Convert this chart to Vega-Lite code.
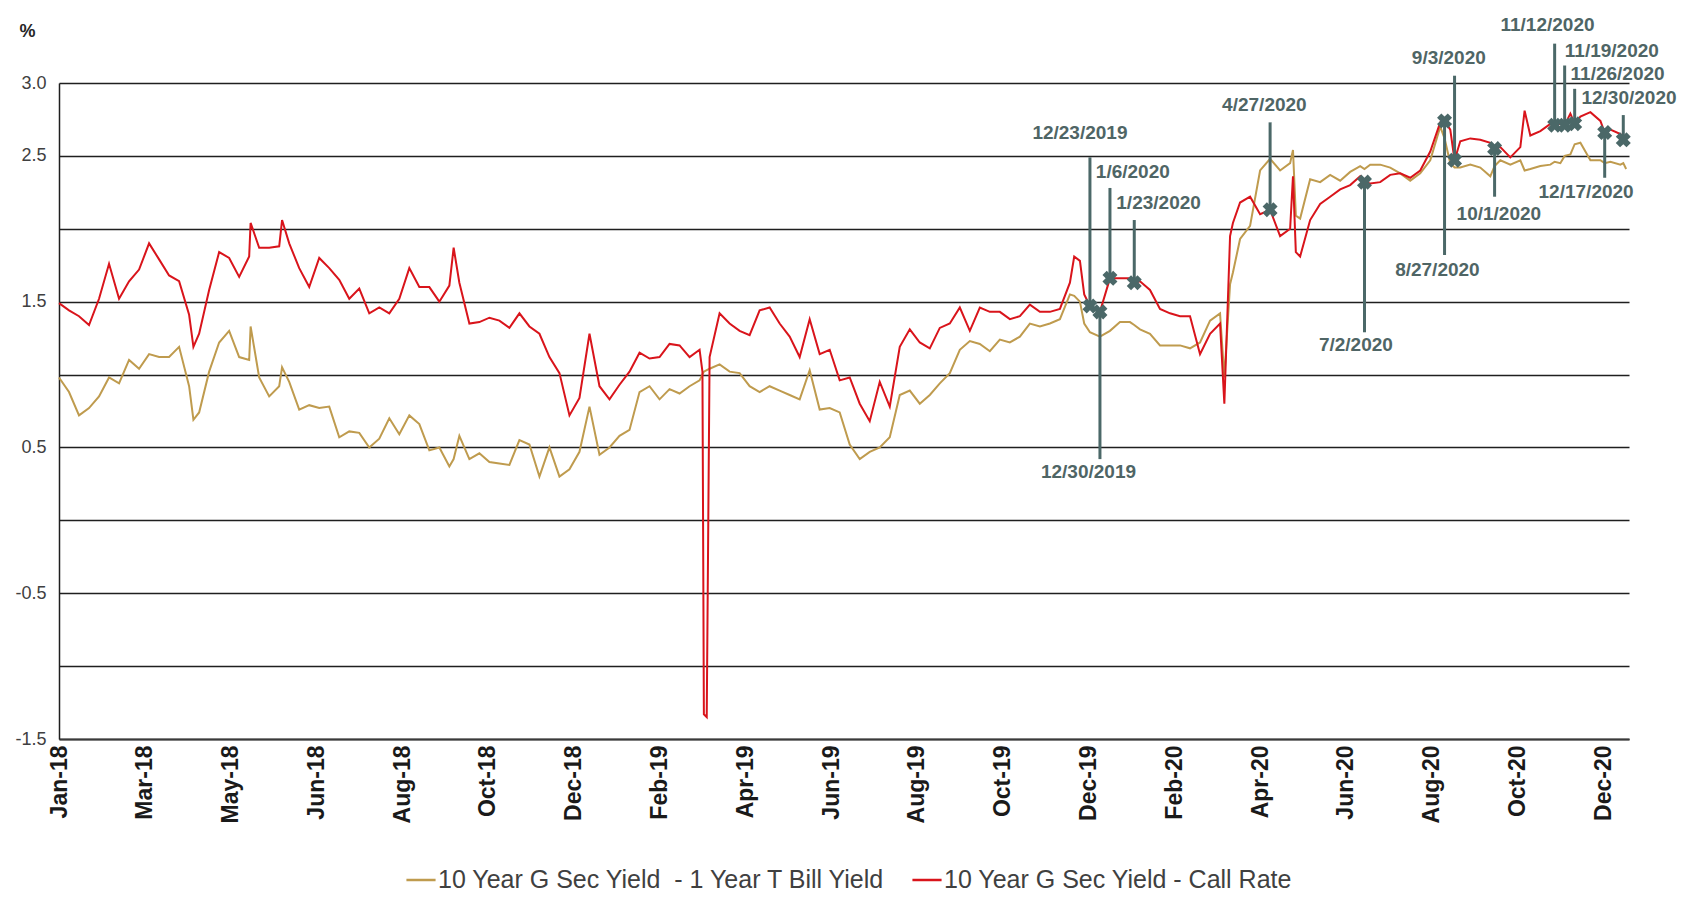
{
  "$schema": "https://vega.github.io/schema/vega-lite/v6.json",
  "description": "10 Year G Sec Yield spreads over 1 Year T Bill Yield and Call Rate, 2018-2020",
  "width": 1570,
  "height": 656,
  "autosize": {"type": "none"},
  "padding": {"left": 59, "top": 83, "right": 60, "bottom": 171},
  "background": "white",
  "config": {"view": {"stroke": null}, "font": "Liberation Sans"},
  "datasets": {
    "yields": [
      {"date": "2018-01-01", "tbill": 0.98, "call": 1.49},
      {"date": "2018-01-08", "tbill": 0.88, "call": 1.44},
      {"date": "2018-01-15", "tbill": 0.72, "call": 1.40},
      {"date": "2018-01-22", "tbill": 0.77, "call": 1.34},
      {"date": "2018-01-29", "tbill": 0.85, "call": 1.52},
      {"date": "2018-02-05", "tbill": 0.98, "call": 1.76},
      {"date": "2018-02-12", "tbill": 0.94, "call": 1.52},
      {"date": "2018-02-19", "tbill": 1.10, "call": 1.64},
      {"date": "2018-02-26", "tbill": 1.04, "call": 1.72},
      {"date": "2018-03-05", "tbill": 1.14, "call": 1.90},
      {"date": "2018-03-12", "tbill": 1.12, "call": 1.79},
      {"date": "2018-03-19", "tbill": 1.12, "call": 1.68},
      {"date": "2018-03-26", "tbill": 1.19, "call": 1.64},
      {"date": "2018-04-02", "tbill": 0.92, "call": 1.41},
      {"date": "2018-04-05", "tbill": 0.69, "call": 1.19},
      {"date": "2018-04-09", "tbill": 0.74, "call": 1.28},
      {"date": "2018-04-16", "tbill": 1.02, "call": 1.58},
      {"date": "2018-04-23", "tbill": 1.22, "call": 1.84},
      {"date": "2018-04-30", "tbill": 1.30, "call": 1.80},
      {"date": "2018-05-07", "tbill": 1.12, "call": 1.67},
      {"date": "2018-05-14", "tbill": 1.10, "call": 1.81},
      {"date": "2018-05-15", "tbill": 1.33, "call": 2.04},
      {"date": "2018-05-21", "tbill": 0.98, "call": 1.87},
      {"date": "2018-05-28", "tbill": 0.85, "call": 1.87},
      {"date": "2018-06-04", "tbill": 0.92, "call": 1.88},
      {"date": "2018-06-06", "tbill": 1.05, "call": 2.06},
      {"date": "2018-06-11", "tbill": 0.95, "call": 1.90},
      {"date": "2018-06-18", "tbill": 0.76, "call": 1.73},
      {"date": "2018-06-25", "tbill": 0.79, "call": 1.60},
      {"date": "2018-07-02", "tbill": 0.77, "call": 1.80},
      {"date": "2018-07-09", "tbill": 0.78, "call": 1.73},
      {"date": "2018-07-16", "tbill": 0.57, "call": 1.65},
      {"date": "2018-07-23", "tbill": 0.61, "call": 1.52},
      {"date": "2018-07-30", "tbill": 0.60, "call": 1.59},
      {"date": "2018-08-06", "tbill": 0.50, "call": 1.42},
      {"date": "2018-08-13", "tbill": 0.56, "call": 1.46},
      {"date": "2018-08-20", "tbill": 0.70, "call": 1.42},
      {"date": "2018-08-27", "tbill": 0.59, "call": 1.52},
      {"date": "2018-09-03", "tbill": 0.72, "call": 1.73},
      {"date": "2018-09-10", "tbill": 0.66, "call": 1.60},
      {"date": "2018-09-17", "tbill": 0.48, "call": 1.60},
      {"date": "2018-09-24", "tbill": 0.50, "call": 1.50},
      {"date": "2018-10-01", "tbill": 0.37, "call": 1.61},
      {"date": "2018-10-04", "tbill": 0.42, "call": 1.87},
      {"date": "2018-10-08", "tbill": 0.58, "call": 1.63},
      {"date": "2018-10-15", "tbill": 0.42, "call": 1.35},
      {"date": "2018-10-22", "tbill": 0.46, "call": 1.36},
      {"date": "2018-10-29", "tbill": 0.40, "call": 1.39},
      {"date": "2018-11-05", "tbill": 0.39, "call": 1.37},
      {"date": "2018-11-12", "tbill": 0.38, "call": 1.32},
      {"date": "2018-11-19", "tbill": 0.55, "call": 1.42},
      {"date": "2018-11-26", "tbill": 0.52, "call": 1.33},
      {"date": "2018-12-03", "tbill": 0.30, "call": 1.28},
      {"date": "2018-12-10", "tbill": 0.50, "call": 1.12},
      {"date": "2018-12-17", "tbill": 0.30, "call": 1.01},
      {"date": "2018-12-24", "tbill": 0.35, "call": 0.72},
      {"date": "2018-12-31", "tbill": 0.47, "call": 0.84},
      {"date": "2019-01-07", "tbill": 0.78, "call": 1.28},
      {"date": "2019-01-14", "tbill": 0.45, "call": 0.92},
      {"date": "2019-01-21", "tbill": 0.50, "call": 0.83},
      {"date": "2019-01-28", "tbill": 0.58, "call": 0.93},
      {"date": "2019-02-04", "tbill": 0.62, "call": 1.02},
      {"date": "2019-02-11", "tbill": 0.88, "call": 1.15},
      {"date": "2019-02-18", "tbill": 0.92, "call": 1.11},
      {"date": "2019-02-25", "tbill": 0.83, "call": 1.12},
      {"date": "2019-03-04", "tbill": 0.90, "call": 1.21},
      {"date": "2019-03-11", "tbill": 0.87, "call": 1.20},
      {"date": "2019-03-18", "tbill": 0.92, "call": 1.12},
      {"date": "2019-03-25", "tbill": 0.96, "call": 1.17},
      {"date": "2019-03-27", "tbill": 1.00, "call": 1.02},
      {"date": "2019-03-28", "tbill": 1.02, "call": -1.33},
      {"date": "2019-03-30", "tbill": 1.03, "call": -1.35},
      {"date": "2019-04-01", "tbill": 1.04, "call": 1.12},
      {"date": "2019-04-08", "tbill": 1.07, "call": 1.42},
      {"date": "2019-04-15", "tbill": 1.02, "call": 1.35},
      {"date": "2019-04-22", "tbill": 1.01, "call": 1.30},
      {"date": "2019-04-29", "tbill": 0.92, "call": 1.27},
      {"date": "2019-05-06", "tbill": 0.88, "call": 1.44},
      {"date": "2019-05-13", "tbill": 0.92, "call": 1.46},
      {"date": "2019-05-20", "tbill": 0.89, "call": 1.35},
      {"date": "2019-05-27", "tbill": 0.86, "call": 1.26},
      {"date": "2019-06-03", "tbill": 0.83, "call": 1.12},
      {"date": "2019-06-10", "tbill": 1.03, "call": 1.38},
      {"date": "2019-06-17", "tbill": 0.76, "call": 1.14},
      {"date": "2019-06-24", "tbill": 0.77, "call": 1.17},
      {"date": "2019-07-01", "tbill": 0.74, "call": 0.96},
      {"date": "2019-07-08", "tbill": 0.52, "call": 0.98},
      {"date": "2019-07-15", "tbill": 0.42, "call": 0.80},
      {"date": "2019-07-22", "tbill": 0.47, "call": 0.68},
      {"date": "2019-07-29", "tbill": 0.50, "call": 0.95},
      {"date": "2019-08-05", "tbill": 0.57, "call": 0.78},
      {"date": "2019-08-12", "tbill": 0.86, "call": 1.19},
      {"date": "2019-08-19", "tbill": 0.89, "call": 1.31},
      {"date": "2019-08-26", "tbill": 0.80, "call": 1.22},
      {"date": "2019-09-02", "tbill": 0.86, "call": 1.18},
      {"date": "2019-09-09", "tbill": 0.94, "call": 1.32},
      {"date": "2019-09-16", "tbill": 1.01, "call": 1.35},
      {"date": "2019-09-23", "tbill": 1.17, "call": 1.46},
      {"date": "2019-09-30", "tbill": 1.23, "call": 1.30},
      {"date": "2019-10-07", "tbill": 1.21, "call": 1.46},
      {"date": "2019-10-14", "tbill": 1.16, "call": 1.43},
      {"date": "2019-10-21", "tbill": 1.24, "call": 1.43},
      {"date": "2019-10-28", "tbill": 1.22, "call": 1.38},
      {"date": "2019-11-04", "tbill": 1.26, "call": 1.40},
      {"date": "2019-11-11", "tbill": 1.35, "call": 1.48},
      {"date": "2019-11-18", "tbill": 1.33, "call": 1.43},
      {"date": "2019-11-25", "tbill": 1.35, "call": 1.43},
      {"date": "2019-12-02", "tbill": 1.38, "call": 1.45},
      {"date": "2019-12-09", "tbill": 1.55, "call": 1.63},
      {"date": "2019-12-12", "tbill": 1.54, "call": 1.81},
      {"date": "2019-12-16", "tbill": 1.50, "call": 1.78},
      {"date": "2019-12-19", "tbill": 1.35, "call": 1.55},
      {"date": "2019-12-23", "tbill": 1.29, "call": 1.47},
      {"date": "2019-12-30", "tbill": 1.26, "call": 1.43},
      {"date": "2020-01-06", "tbill": 1.30, "call": 1.66},
      {"date": "2020-01-13", "tbill": 1.36, "call": 1.66},
      {"date": "2020-01-20", "tbill": 1.36, "call": 1.66},
      {"date": "2020-01-23", "tbill": 1.34, "call": 1.63},
      {"date": "2020-01-27", "tbill": 1.31, "call": 1.64},
      {"date": "2020-02-03", "tbill": 1.28, "call": 1.58},
      {"date": "2020-02-10", "tbill": 1.20, "call": 1.45},
      {"date": "2020-02-17", "tbill": 1.20, "call": 1.42},
      {"date": "2020-02-24", "tbill": 1.20, "call": 1.40},
      {"date": "2020-03-02", "tbill": 1.18, "call": 1.40},
      {"date": "2020-03-09", "tbill": 1.22, "call": 1.14},
      {"date": "2020-03-16", "tbill": 1.37, "call": 1.28},
      {"date": "2020-03-23", "tbill": 1.42, "call": 1.35},
      {"date": "2020-03-26", "tbill": 0.98, "call": 0.80},
      {"date": "2020-03-30", "tbill": 1.62, "call": 1.95},
      {"date": "2020-04-01", "tbill": 1.70, "call": 2.04},
      {"date": "2020-04-06", "tbill": 1.93, "call": 2.18},
      {"date": "2020-04-13", "tbill": 2.02, "call": 2.22},
      {"date": "2020-04-20", "tbill": 2.40, "call": 2.10},
      {"date": "2020-04-27", "tbill": 2.48, "call": 2.13},
      {"date": "2020-05-04", "tbill": 2.40, "call": 1.95},
      {"date": "2020-05-11", "tbill": 2.45, "call": 2.00},
      {"date": "2020-05-13", "tbill": 2.54, "call": 2.36},
      {"date": "2020-05-15", "tbill": 2.09, "call": 1.84},
      {"date": "2020-05-18", "tbill": 2.07, "call": 1.81},
      {"date": "2020-05-25", "tbill": 2.34, "call": 2.06},
      {"date": "2020-06-01", "tbill": 2.32, "call": 2.17},
      {"date": "2020-06-08", "tbill": 2.37, "call": 2.22},
      {"date": "2020-06-15", "tbill": 2.33, "call": 2.27},
      {"date": "2020-06-22", "tbill": 2.39, "call": 2.30},
      {"date": "2020-06-29", "tbill": 2.43, "call": 2.36},
      {"date": "2020-07-02", "tbill": 2.41, "call": 2.32},
      {"date": "2020-07-06", "tbill": 2.44, "call": 2.31},
      {"date": "2020-07-13", "tbill": 2.44, "call": 2.32},
      {"date": "2020-07-20", "tbill": 2.42, "call": 2.37},
      {"date": "2020-07-27", "tbill": 2.38, "call": 2.38},
      {"date": "2020-08-03", "tbill": 2.33, "call": 2.35},
      {"date": "2020-08-10", "tbill": 2.38, "call": 2.40},
      {"date": "2020-08-17", "tbill": 2.47, "call": 2.53},
      {"date": "2020-08-24", "tbill": 2.70, "call": 2.73},
      {"date": "2020-08-27", "tbill": 2.62, "call": 2.74},
      {"date": "2020-08-31", "tbill": 2.45, "call": 2.68},
      {"date": "2020-09-03", "tbill": 2.42, "call": 2.47},
      {"date": "2020-09-07", "tbill": 2.42, "call": 2.60},
      {"date": "2020-09-14", "tbill": 2.44, "call": 2.62},
      {"date": "2020-09-21", "tbill": 2.42, "call": 2.61},
      {"date": "2020-09-28", "tbill": 2.36, "call": 2.59},
      {"date": "2020-10-01", "tbill": 2.43, "call": 2.55},
      {"date": "2020-10-05", "tbill": 2.47, "call": 2.56},
      {"date": "2020-10-12", "tbill": 2.44, "call": 2.49},
      {"date": "2020-10-19", "tbill": 2.47, "call": 2.56},
      {"date": "2020-10-22", "tbill": 2.40, "call": 2.81},
      {"date": "2020-10-26", "tbill": 2.41, "call": 2.64},
      {"date": "2020-11-02", "tbill": 2.43, "call": 2.67},
      {"date": "2020-11-09", "tbill": 2.44, "call": 2.72},
      {"date": "2020-11-12", "tbill": 2.46, "call": 2.71},
      {"date": "2020-11-16", "tbill": 2.45, "call": 2.72},
      {"date": "2020-11-19", "tbill": 2.50, "call": 2.71},
      {"date": "2020-11-23", "tbill": 2.51, "call": 2.79},
      {"date": "2020-11-26", "tbill": 2.58, "call": 2.72},
      {"date": "2020-11-30", "tbill": 2.59, "call": 2.77},
      {"date": "2020-12-07", "tbill": 2.47, "call": 2.80},
      {"date": "2020-12-14", "tbill": 2.47, "call": 2.74},
      {"date": "2020-12-17", "tbill": 2.45, "call": 2.66},
      {"date": "2020-12-21", "tbill": 2.46, "call": 2.68},
      {"date": "2020-12-28", "tbill": 2.44, "call": 2.65},
      {"date": "2020-12-30", "tbill": 2.45, "call": 2.61},
      {"date": "2021-01-01", "tbill": 2.41, "call": 2.60}
    ],
    "notes": [
      {"date": "2019-12-23", "y": 1.47, "y2": 2.49, "label": "12/23/2019", "labelDate": "2019-12-16", "labelY": 2.66},
      {"date": "2019-12-30", "y": 1.43, "y2": 0.42, "label": "12/30/2019", "labelDate": "2019-12-22", "labelY": 0.33},
      {"date": "2020-01-06", "y": 1.66, "y2": 2.28, "label": "1/6/2020", "labelDate": "2020-01-22", "labelY": 2.39},
      {"date": "2020-01-23", "y": 1.63, "y2": 2.06, "label": "1/23/2020", "labelDate": "2020-02-09", "labelY": 2.18},
      {"date": "2020-04-27", "y": 2.13, "y2": 2.73, "label": "4/27/2020", "labelDate": "2020-04-23", "labelY": 2.85},
      {"date": "2020-07-02", "y": 2.32, "y2": 1.29, "label": "7/2/2020", "labelDate": "2020-06-26", "labelY": 1.20},
      {"date": "2020-08-27", "y": 2.74, "y2": 1.82, "label": "8/27/2020", "labelDate": "2020-08-22", "labelY": 1.72},
      {"date": "2020-09-03", "y": 2.47, "y2": 3.05, "label": "9/3/2020", "labelDate": "2020-08-30", "labelY": 3.17},
      {"date": "2020-10-01", "y": 2.55, "y2": 2.22, "label": "10/1/2020", "labelDate": "2020-10-04", "labelY": 2.10},
      {"date": "2020-11-12", "y": 2.71, "y2": 3.27, "label": "11/12/2020", "labelDate": "2020-11-07", "labelY": 3.40},
      {"date": "2020-11-19", "y": 2.71, "y2": 3.12, "label": "11/19/2020", "labelDate": "2020-12-22", "labelY": 3.22},
      {"date": "2020-11-26", "y": 2.72, "y2": 2.96, "label": "11/26/2020", "labelDate": "2020-12-26", "labelY": 3.06},
      {"date": "2020-12-17", "y": 2.66, "y2": 2.35, "label": "12/17/2020", "labelDate": "2020-12-04", "labelY": 2.25},
      {"date": "2020-12-30", "y": 2.61, "y2": 2.78, "label": "12/30/2020", "labelDate": "2021-01-03", "labelY": 2.90}
    ]
  },
  "layer": [
    {
      "data": {"name": "yields"},
      "transform": [{"fold": ["tbill", "call"], "as": ["series", "value"]}],
      "mark": {"type": "line", "strokeWidth": 2},
      "encoding": {
        "x": {
          "field": "date",
          "type": "temporal",
          "title": null,
          "scale": {
            "type": "utc",
            "domain": [
              {"year": 2018, "month": 1, "date": 1, "utc": true},
              {"year": 2021, "month": 1, "date": 3, "utc": true}
            ]
          },
          "axis": {
            "values": [
              {"year": 2018, "month": 1, "date": 1, "utc": true},
              {"year": 2018, "month": 3, "date": 2, "utc": true},
              {"year": 2018, "month": 5, "date": 1, "utc": true},
              {"year": 2018, "month": 6, "date": 30, "utc": true},
              {"year": 2018, "month": 8, "date": 29, "utc": true},
              {"year": 2018, "month": 10, "date": 28, "utc": true},
              {"year": 2018, "month": 12, "date": 27, "utc": true},
              {"year": 2019, "month": 2, "date": 25, "utc": true},
              {"year": 2019, "month": 4, "date": 26, "utc": true},
              {"year": 2019, "month": 6, "date": 25, "utc": true},
              {"year": 2019, "month": 8, "date": 24, "utc": true},
              {"year": 2019, "month": 10, "date": 23, "utc": true},
              {"year": 2019, "month": 12, "date": 22, "utc": true},
              {"year": 2020, "month": 2, "date": 20, "utc": true},
              {"year": 2020, "month": 4, "date": 20, "utc": true},
              {"year": 2020, "month": 6, "date": 19, "utc": true},
              {"year": 2020, "month": 8, "date": 18, "utc": true},
              {"year": 2020, "month": 10, "date": 17, "utc": true},
              {"year": 2020, "month": 12, "date": 16, "utc": true}
            ],
            "labelExpr": "utcFormat(datum.value, '%b-%y')",
            "labelAngle": -90,
            "labelAlign": "right",
            "labelBaseline": "middle",
            "labelFont": "Liberation Sans",
            "labelFontSize": 23,
            "labelFontWeight": "bold",
            "labelColor": "#1a1a1a",
            "labelPadding": 6,
            "labelFlush": false,
            "labelOverlap": false,
            "ticks": false,
            "grid": false,
            "domainColor": "#3a3a3a",
            "domainWidth": 2
          }
        },
        "y": {
          "field": "value",
          "type": "quantitative",
          "title": "%",
          "scale": {"domain": [-1.5, 3], "nice": false, "zero": false},
          "axis": {
            "values": [-1.5, -1, -0.5, 0, 0.5, 1, 1.5, 2, 2.5, 3],
            "labelExpr": "indexof([2, 1, 0, -1], datum.value) >= 0 ? '' : (datum.value < 0 ? '-' : '') + format(abs(datum.value), '.1f')",
            "grid": true,
            "gridColor": "#1f1f1f",
            "gridWidth": 1.3,
            "domainColor": "#1f1f1f",
            "domainWidth": 1.5,
            "ticks": false,
            "labelPadding": 13,
            "labelFont": "Liberation Sans",
            "labelFontSize": 18,
            "labelColor": "#404040",
            "titleAngle": 0,
            "titleX": -32,
            "titleY": -52,
            "titleAlign": "center",
            "titleBaseline": "middle",
            "titleFont": "Liberation Sans",
            "titleFontSize": 18,
            "titleFontWeight": "bold",
            "titleColor": "#262626"
          }
        },
        "color": {
          "field": "series",
          "type": "nominal",
          "scale": {"domain": ["tbill", "call"], "range": ["#bf9b4e", "#d9141b"]},
          "legend": {
            "orient": "none",
            "legendX": 346,
            "legendY": 781,
            "direction": "horizontal",
            "title": null,
            "symbolType": "stroke",
            "symbolSize": 850,
            "symbolStrokeWidth": 2.5,
            "labelFont": "Liberation Sans",
            "labelFontSize": 25,
            "labelColor": "#404040",
            "labelOffset": 1,
            "labelLimit": 0,
            "columnPadding": 21,
            "labelExpr": "datum.value == 'tbill' ? '10 Year G Sec Yield \u00a0- 1 Year T Bill Yield' : '10 Year G Sec Yield - Call Rate'"
          }
        }
      }
    },
    {
      "data": {"name": "notes"},
      "mark": {"type": "rule", "color": "#4b6868", "strokeWidth": 3},
      "encoding": {
        "x": {"field": "date", "type": "temporal", "title": null},
        "y": {"field": "y", "type": "quantitative", "title": "%"},
        "y2": {"field": "y2"}
      }
    },
    {
      "data": {"name": "notes"},
      "mark": {"type": "point", "shape": "cross", "angle": 45, "filled": true, "size": 230, "color": "#4b6868", "opacity": 1},
      "encoding": {
        "x": {"field": "date", "type": "temporal", "title": null},
        "y": {"field": "y", "type": "quantitative", "title": "%"}
      }
    },
    {
      "data": {"name": "notes"},
      "mark": {"type": "text", "font": "Liberation Sans", "fontSize": 19, "fontWeight": "bold", "color": "#4f6565", "align": "center", "baseline": "middle"},
      "encoding": {
        "x": {"field": "labelDate", "type": "temporal", "title": null},
        "y": {"field": "labelY", "type": "quantitative", "title": "%"},
        "text": {"field": "label"}
      }
    }
  ]
}
